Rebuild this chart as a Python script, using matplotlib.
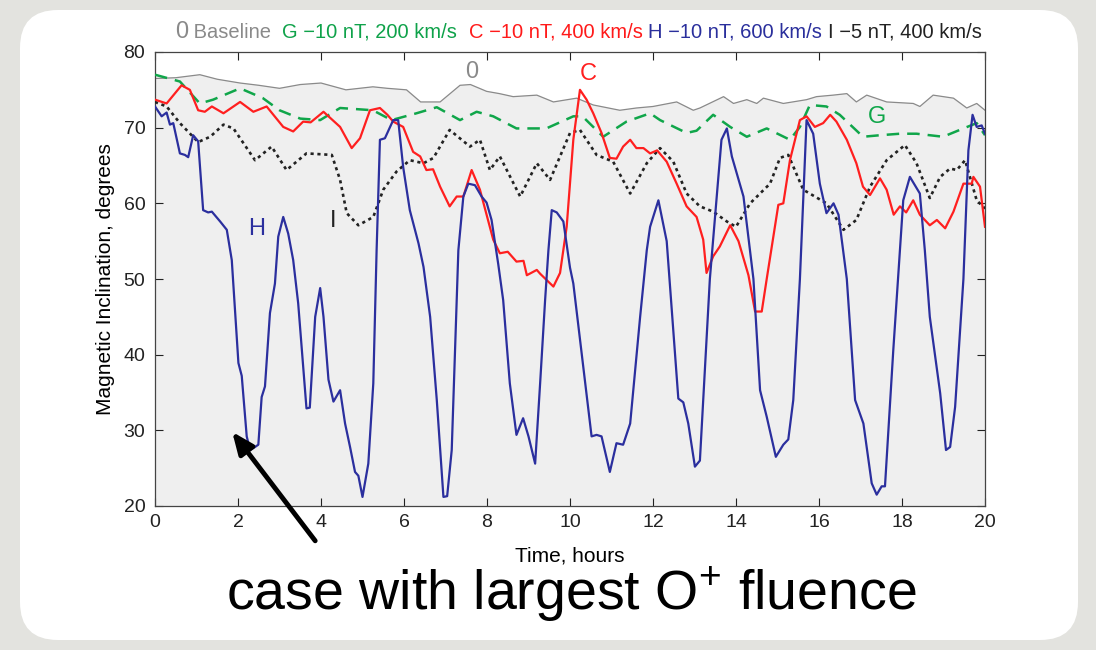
import matplotlib
matplotlib.use('Agg')
import matplotlib.pyplot as plt
from matplotlib.patches import FancyBboxPatch
from matplotlib.transforms import IdentityTransform
from matplotlib.offsetbox import TextArea, HPacker, AnchoredOffsetbox

plt.rcParams['font.family'] = ['Liberation Sans', 'DejaVu Sans']
plt.rcParams['mathtext.fontset'] = 'custom'
plt.rcParams['mathtext.rm'] = 'Liberation Sans'

# ---- data (time in hours, inclination in degrees) ----
base_t = [0, 0.5, 1.08, 1.5, 2.05, 2.5, 3.0, 3.5, 4.0, 4.6, 5.25, 5.6, 6.06, 6.4, 6.87, 7.35, 7.6,
          7.99, 8.3, 8.63, 9.2, 9.6, 10.16, 10.56, 11.2, 11.6, 12.0, 12.57, 12.97, 13.13, 13.7,
          13.94, 14.26, 14.5, 14.66, 15.14, 15.7, 15.94, 16.34, 16.67, 16.9, 17.15, 17.63, 18.27,
          18.43, 18.75, 19.24, 19.56, 19.8, 20]
base_v = [76.5, 76.6, 77.0, 76.4, 75.9, 75.6, 75.2, 75.7, 75.9, 75.0, 75.4, 75.2, 75.0, 73.4, 73.4,
          75.6, 75.7, 74.8, 74.5, 74.1, 74.3, 73.4, 73.9, 73.0, 72.3, 72.6, 72.8, 73.4, 72.3, 72.6,
          74.1, 73.2, 73.7, 73.2, 73.9, 73.2, 73.7, 74.1, 74.3, 74.5, 73.4, 74.3, 73.4, 73.2, 72.8,
          74.3, 73.9, 72.6, 73.2, 72.3]

g_t = [0, 0.6, 1.08, 1.4, 2.05, 2.6, 3.0, 3.5, 3.98, 4.46, 5.25, 5.7, 6.3, 6.79, 7.35, 7.75, 8.15,
       8.71, 9.43, 10.08, 10.3, 10.8, 11.36, 11.93, 12.17, 12.81, 13.05, 13.45, 13.86, 14.26,
       14.74, 15.3, 15.54, 15.78, 16.18, 16.5, 17.06, 17.47, 17.95, 18.35, 18.99, 19.48, 19.8, 20]
g_v = [77.0, 76.1, 73.2, 73.7, 75.2, 73.9, 72.3, 71.2, 71.0, 72.6, 72.3, 71.0, 71.9, 72.7, 71.0,
       72.1, 71.5, 69.9, 69.9, 71.5, 71.5, 68.8, 70.8, 71.9, 71.0, 69.3, 69.6, 71.7, 70.1, 68.8,
       69.9, 68.4, 70.1, 73.0, 72.8, 71.7, 68.8, 69.0, 69.2, 69.2, 68.8, 69.9, 70.6, 69.0]

c_t = [0, 0.28, 0.64, 0.84, 1.04, 1.2, 1.37, 1.65, 2.05, 2.37, 2.69, 3.09, 3.33, 3.57, 3.75, 4.06,
       4.46, 4.74, 4.94, 5.18, 5.42, 5.6, 5.74, 5.98, 6.22, 6.39, 6.54, 6.7, 6.87, 7.1, 7.27, 7.43,
       7.63, 7.83, 8.15, 8.31, 8.5, 8.71, 8.88, 8.96, 9.2, 9.28, 9.43, 9.6, 9.76, 9.92, 10.08,
       10.24, 10.4, 10.56, 10.76, 10.96, 11.12, 11.28, 11.45, 11.6, 11.77, 11.93, 12.1, 12.33,
       12.57, 12.81, 13.05, 13.21, 13.29, 13.45, 13.61, 13.86, 14.06, 14.3, 14.46, 14.62, 14.74,
       14.9, 15.02, 15.14, 15.3, 15.54, 15.7, 15.9, 16.1, 16.27, 16.42, 16.67, 16.9, 17.06, 17.23,
       17.47, 17.63, 17.8, 17.95, 18.1, 18.27, 18.43, 18.67, 18.84, 19.04, 19.24, 19.48, 19.68,
       19.72, 19.88, 20]
c_v = [73.7, 73.2, 75.6, 75.0, 72.3, 72.1, 72.8, 71.9, 73.4, 72.1, 72.8, 70.1, 69.5, 70.8, 70.7,
       72.1, 70.1, 67.3, 68.6, 72.3, 72.6, 71.7, 70.8, 70.1, 66.8, 66.2, 64.4, 64.5, 62.2, 59.6,
       60.9, 60.9, 64.4, 61.8, 55.2, 53.4, 53.6, 52.3, 52.4, 50.5, 51.2, 50.7, 49.9, 49.0, 50.8,
       56.9, 68.4, 75.0, 73.7, 71.9, 69.3, 66.0, 65.9, 67.5, 68.4, 67.3, 67.3, 66.6, 67.0, 65.5,
       62.6, 59.6, 58.2, 55.2, 50.8, 53.0, 54.3, 57.1, 55.0, 50.5, 45.7, 45.7, 50.0, 55.6, 59.8,
       60.0, 65.7, 71.0, 71.5, 70.1, 70.6, 71.7, 70.8, 68.4, 65.3, 62.2, 61.1, 63.3, 61.8, 58.5,
       59.6, 58.8, 60.4, 58.5, 57.1, 57.8, 56.7, 58.9, 62.6, 62.6, 63.5, 62.2, 56.9]

h_t = [0, 0.16, 0.28, 0.36, 0.44, 0.6, 0.72, 0.8, 0.92, 1.04, 1.16, 1.28, 1.37, 1.57, 1.73, 1.85,
       2.01, 2.09, 2.21, 2.29, 2.41, 2.49, 2.57, 2.65, 2.77, 2.89, 2.97, 3.09, 3.21, 3.33, 3.45,
       3.65, 3.73, 3.86, 3.98, 4.06, 4.18, 4.3, 4.46, 4.58, 4.7, 4.82, 4.9, 5.0, 5.14, 5.26, 5.34,
       5.42, 5.54, 5.74, 5.86, 5.98, 6.14, 6.35, 6.47, 6.63, 6.79, 6.95, 7.04, 7.15, 7.23, 7.31,
       7.43, 7.55, 7.71, 7.87, 7.99, 8.11, 8.27, 8.39, 8.55, 8.71, 8.87, 9.0, 9.16, 9.28, 9.4,
       9.48, 9.56, 9.68, 9.84, 10.0, 10.08, 10.32, 10.52, 10.64, 10.76, 10.96, 11.12, 11.28,
       11.45, 11.69, 11.85, 11.93, 12.13, 12.33, 12.61, 12.73, 12.85, 13.01, 13.13, 13.37, 13.57,
       13.65, 13.78, 13.9, 14.18, 14.42, 14.58, 14.74, 14.96, 15.14, 15.26, 15.38, 15.54, 15.7,
       15.86, 16.02, 16.18, 16.35, 16.47, 16.67, 16.87, 17.07, 17.27, 17.39, 17.51, 17.59, 17.79,
       17.95, 18.03, 18.19, 18.43, 18.55, 18.67, 18.92, 19.06, 19.16, 19.28, 19.48, 19.6, 19.7,
       19.8, 19.92, 20]
h_v = [72.8, 71.5, 72.0, 70.4, 70.6, 66.6, 66.4, 66.1, 69.0, 68.2, 59.1, 58.8, 58.9, 57.6, 56.5,
       52.5, 38.9, 37.2, 29.2, 27.4, 27.8, 28.1, 34.4, 35.8, 45.5, 49.4, 55.6, 58.2, 56.0, 52.5,
       46.8, 32.9, 33.0, 45.0, 48.8, 45.0, 36.7, 33.8, 35.3, 30.9, 27.8, 24.5, 24.0, 21.2, 25.6,
       36.2, 53.8, 68.4, 68.6, 71.0, 71.0, 64.8, 59.1, 54.7, 51.6, 45.0, 34.0, 21.2, 21.3, 27.4,
       40.6, 53.8, 60.9, 62.6, 62.4, 60.9, 60.1, 57.8, 52.0, 47.2, 36.2, 29.4, 31.6, 29.2, 25.6,
       36.2, 47.2, 53.8, 59.1, 58.8, 57.6, 51.5, 49.4, 38.4, 29.2, 29.4, 29.2, 24.5, 28.3, 28.1,
       30.9, 45.0, 53.8, 56.9, 60.4, 55.0, 34.2, 33.7, 30.9, 25.2, 26.0, 50.0, 63.1, 68.4, 69.9,
       66.2, 60.9, 50.0, 35.3, 31.8, 26.5, 28.1, 28.8, 34.0, 50.0, 71.0, 69.2, 62.6, 58.7, 60.0,
       58.5, 50.0, 34.0, 30.9, 23.0, 21.5, 22.6, 22.6, 40.6, 53.8, 60.4, 63.5, 61.3, 53.8, 45.0,
       34.9, 27.4, 27.8, 33.1, 50.0, 67.0, 71.7, 70.1, 70.3, 69.2]

i_t = [0, 0.28, 0.6, 1.04, 1.33, 1.65, 1.89, 2.41, 2.81, 3.17, 3.65, 4.26, 4.46, 4.62, 4.9, 5.26,
       5.5, 5.82, 6.14, 6.47, 6.71, 7.1, 7.59, 7.83, 8.07, 8.31, 8.8, 9.2, 9.52, 10.0, 10.24,
       10.64, 11.04, 11.45, 11.85, 12.17, 12.49, 12.81, 13.13, 13.45, 13.78, 14.0, 14.34, 14.82,
       15.06, 15.26, 15.62, 16.18, 16.59, 16.9, 17.23, 17.63, 18.07, 18.35, 18.67, 18.92, 19.16,
       19.32, 19.52, 19.8, 20]
i_v = [73.4, 72.8, 70.6, 68.1, 68.8, 70.4, 69.9, 65.7, 67.5, 64.4, 66.6, 66.4, 63.1, 58.7, 57.1,
       58.2, 61.8, 64.2, 65.7, 65.3, 66.0, 69.7, 67.5, 68.4, 64.4, 66.2, 60.9, 65.3, 63.1, 69.3,
       69.7, 66.4, 65.5, 61.3, 65.3, 67.3, 65.5, 61.3, 59.6, 58.9, 57.6, 56.9, 60.0, 62.6, 66.0,
       66.4, 61.8, 60.0, 56.5, 57.8, 62.2, 65.7, 67.7, 65.3, 60.7, 63.5, 64.6, 64.4, 65.7, 60.4,
       59.3]

legend_parts = [('0', '#8a8a8a', 17), (' Baseline  ', '#8a8a8a', 14.5),
                ('G \u221210 nT, 200 km/s  ', '#0fa24a', 14.5),
                ('C \u221210 nT, 400 km/s ', '#ff1a1a', 14.5),
                ('H \u221210 nT, 600 km/s ', '#2a2f9c', 14.5),
                ('I \u22125 nT, 400 km/s', '#222222', 14.5)]

RED = '#ff1f1f'
BLUE = '#2b2f9e'
GREEN = '#10a64a'
GRAY = '#8a8a8a'

fig = plt.figure(figsize=(10.96, 6.5), dpi=100)
fig.patch.set_facecolor('#e3e3df')

card = FancyBboxPatch((20, 10), 1058, 630, boxstyle='round,pad=0,rounding_size=38',
                      transform=IdentityTransform(), facecolor='white', edgecolor='none',
                      zorder=-5)
fig.patches.append(card)

ax = fig.add_axes([155 / 1096, 1 - 506 / 650, 830 / 1096, 454 / 650])
ax.set_facecolor('white')

# shaded region under the baseline
ax.fill_between(base_t, base_v, 20, color='#efefef', zorder=1)
ax.plot(base_t, base_v, color=GRAY, lw=0.9, zorder=2)
ax.plot(g_t, g_v, color=GREEN, lw=1.8, dashes=(5, 3.2), zorder=3)
ax.plot(i_t, i_v, color='#222222', lw=1.9, dashes=(1.2, 1.4), zorder=3)
ax.plot(c_t, c_v, color=RED, lw=1.6, zorder=4)
ax.plot(h_t, h_v, color=BLUE, lw=1.6, zorder=5)

# curve labels
ax.text(7.64, 77.4, '0', color=GRAY, fontsize=17, ha='center', va='center')
ax.text(10.43, 77.1, 'C', color=RED, fontsize=17, ha='center', va='center')
ax.text(17.4, 71.4, 'G', color=GREEN, fontsize=17, ha='center', va='center')
ax.text(2.46, 56.6, 'H', color=BLUE, fontsize=17, ha='center', va='center')
ax.text(4.29, 57.6, 'I', color='#222222', fontsize=17, ha='center', va='center')

ax.set_xlim(0, 20)
ax.set_ylim(20, 80)
ax.set_xticks(range(0, 21, 2))
ax.set_yticks(range(20, 81, 10))
ax.tick_params(direction='in', length=6, width=0.8, top=True, right=True,
               labelsize=14, colors='#222222')
ax.tick_params(axis='y', pad=7)
ax.tick_params(axis='x', pad=6)
for s in ax.spines.values():
    s.set_color('#444444')
    s.set_linewidth(0.9)
ax.set_xlabel('Time, hours', fontsize=15, labelpad=11)
ax.set_ylabel('Magnetic Inclination, degrees', fontsize=15, labelpad=6)

# colored legend line above the axes
boxes = [TextArea(txt, textprops=dict(color=col, fontsize=fs)) for txt, col, fs in legend_parts]
row = HPacker(children=boxes, align='baseline', pad=0, sep=0)
anchored = AnchoredOffsetbox(loc='lower center', child=row, frameon=False,
                             bbox_to_anchor=(0.51, 1.02), bbox_transform=ax.transAxes,
                             borderpad=0, pad=0)
ax.add_artist(anchored)

# annotation
ax.annotate('', xy=(1.86, 29.8), xytext=(3.86, 15.4), annotation_clip=False,
            arrowprops=dict(arrowstyle='-|>,head_length=1.3,head_width=0.55', color='black',
                            lw=3.5, shrinkA=0, shrinkB=0), zorder=6)
fig.text(571 / 1096, 1 - 594 / 650, 'case with largest O$^{+}$ fluence', fontsize=40,
         ha='center', va='center', color='black')

fig.savefig('out.png', dpi=100, facecolor=fig.get_facecolor())
